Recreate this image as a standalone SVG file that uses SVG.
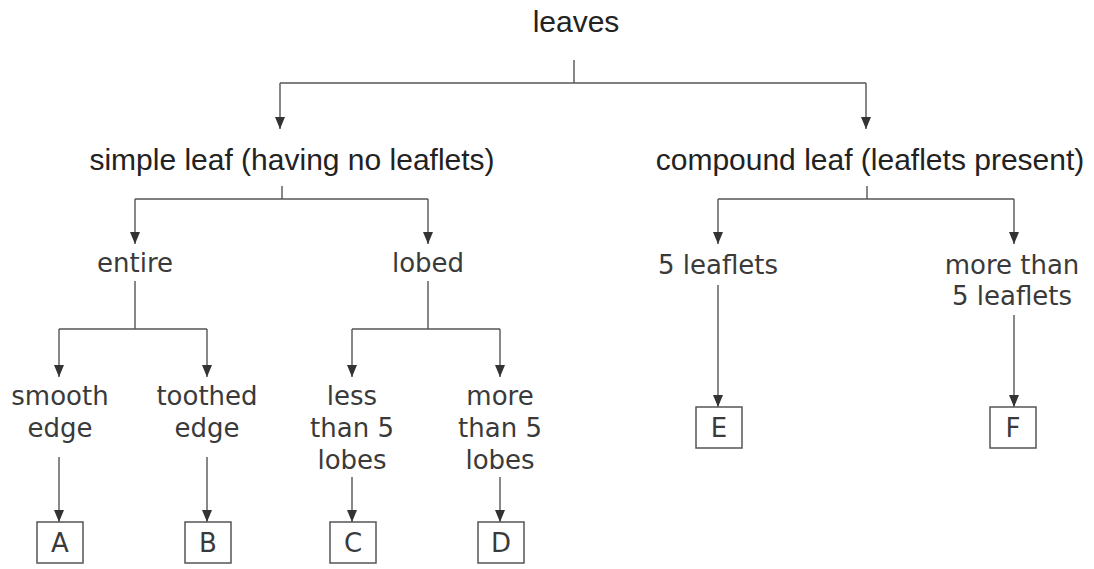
<svg xmlns="http://www.w3.org/2000/svg" width="1094" height="569" viewBox="0 0 1094 569">
<defs>
<marker id="ah" markerWidth="12" markerHeight="10" refX="12" refY="5" orient="auto" markerUnits="userSpaceOnUse" viewBox="0 0 12 10">
<path d="M0,0 L12,5 L0,10 Z" fill="#333"/>
</marker>
<style>
.t1{font-family:"Liberation Sans",Arial,sans-serif;font-size:30px;fill:#222;text-anchor:middle}
.t2{font-family:"DejaVu Sans",sans-serif;font-size:26px;fill:#3a3a3a;text-anchor:middle}
.bx{fill:#fff;stroke:#555;stroke-width:1.5}
.ln{fill:none;stroke:#555;stroke-width:1.4}
</style>
</defs>
<rect width="1094" height="569" fill="#fff"/>
<g id="connectors">
<path class="ln" d="M574,60 V83 M280,83 H866"/>
<path class="ln" d="M280,83 V129" marker-end="url(#ah)"/>
<path class="ln" d="M866,83 V129" marker-end="url(#ah)"/>
<path class="ln" d="M282,186 V199 M135,199 H428"/>
<path class="ln" d="M135,199 V244" marker-end="url(#ah)"/>
<path class="ln" d="M428,199 V244" marker-end="url(#ah)"/>
<path class="ln" d="M867,186 V199 M718,199 H1014"/>
<path class="ln" d="M718,199 V244" marker-end="url(#ah)"/>
<path class="ln" d="M1014,199 V244" marker-end="url(#ah)"/>
<path class="ln" d="M135,281 V329 M59,329 H207"/>
<path class="ln" d="M59,329 V377" marker-end="url(#ah)"/>
<path class="ln" d="M207,329 V377" marker-end="url(#ah)"/>
<path class="ln" d="M428,281 V329 M352,329 H500"/>
<path class="ln" d="M352,329 V377" marker-end="url(#ah)"/>
<path class="ln" d="M500,329 V377" marker-end="url(#ah)"/>
<path class="ln" d="M59,457 V522" marker-end="url(#ah)"/>
<path class="ln" d="M207,457 V522" marker-end="url(#ah)"/>
<path class="ln" d="M352,477 V522" marker-end="url(#ah)"/>
<path class="ln" d="M500,477 V522" marker-end="url(#ah)"/>
<path class="ln" d="M718,285 V407" marker-end="url(#ah)"/>
<path class="ln" d="M1014,315 V407" marker-end="url(#ah)"/>
</g>
<g id="leaves"><text class="t1" x="576" y="32">leaves</text></g>
<g id="simple"><text class="t1" x="292" y="170">simple leaf (having no leaflets)</text></g>
<g id="compound"><text class="t1" x="870" y="170">compound leaf (leaflets present)</text></g>
<g id="entire"><text class="t2" x="135" y="272">entire</text></g>
<g id="lobed"><text class="t2" x="428" y="272">lobed</text></g>
<g id="five"><text class="t2" x="718" y="274">5 leaflets</text></g>
<g id="morefive"><text class="t2" x="1012" y="274">more than</text><text class="t2" x="1012" y="305">5 leaflets</text></g>
<g id="smooth"><text class="t2" x="60" y="405">smooth</text><text class="t2" x="60" y="437">edge</text></g>
<g id="toothed"><text class="t2" x="207" y="405">toothed</text><text class="t2" x="207" y="437">edge</text></g>
<g id="less"><text class="t2" x="352" y="405">less</text><text class="t2" x="352" y="437">than 5</text><text class="t2" x="352" y="469">lobes</text></g>
<g id="more"><text class="t2" x="500" y="405">more</text><text class="t2" x="500" y="437">than 5</text><text class="t2" x="500" y="469">lobes</text></g>
<g id="A"><rect class="bx" x="37" y="522" width="46" height="41"/><text class="t2" x="60" y="552">A</text></g>
<g id="B"><rect class="bx" x="185" y="522" width="46" height="41"/><text class="t2" x="208" y="552">B</text></g>
<g id="C"><rect class="bx" x="330" y="522" width="46" height="41"/><text class="t2" x="353" y="552">C</text></g>
<g id="D"><rect class="bx" x="478" y="522" width="46" height="41"/><text class="t2" x="501" y="552">D</text></g>
<g id="E"><rect class="bx" x="696" y="407" width="46" height="41"/><text class="t2" x="719" y="437">E</text></g>
<g id="F"><rect class="bx" x="990" y="407" width="46" height="41"/><text class="t2" x="1013" y="437">F</text></g>
</svg>
